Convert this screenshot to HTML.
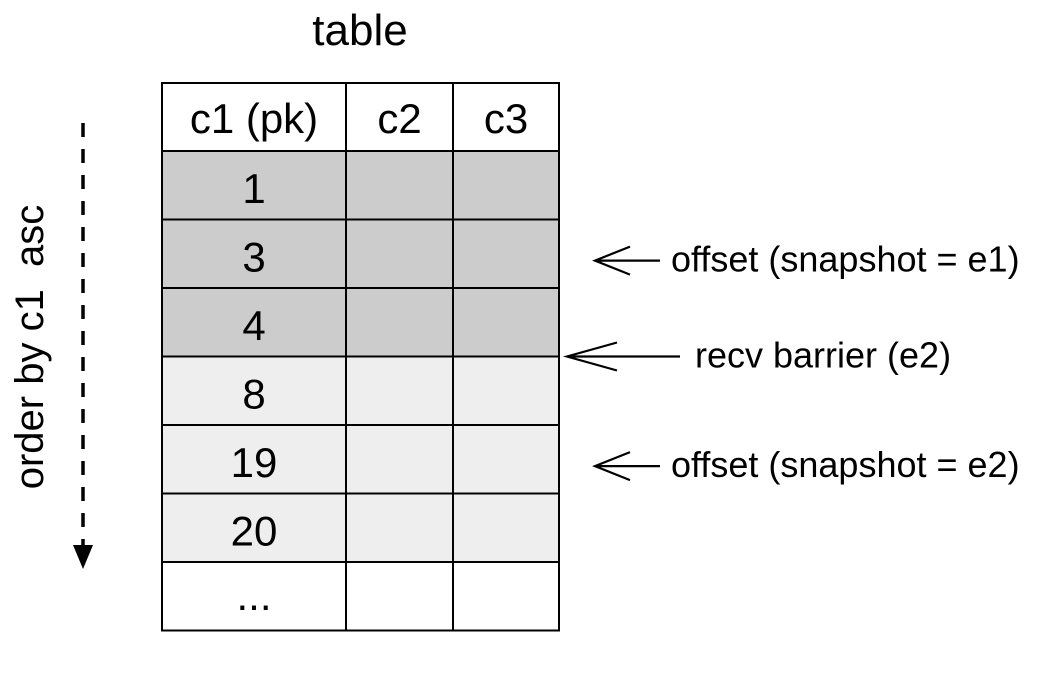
<!DOCTYPE html>
<html><head><meta charset="utf-8"><style>
html,body{margin:0;padding:0;background:#fff;}
svg{display:block;font-family:"Liberation Sans",Arial,sans-serif;}
</style></head><body>
<svg id="d" width="1044" height="678" viewBox="0 0 1044 678">
<text x="360" y="45" font-size="44" text-anchor="middle">table</text>
<g id="tbl"></g>
<g id="ann"></g>
<g>
<line x1="83" y1="123" x2="83" y2="548" stroke="#000" stroke-width="3.5" stroke-dasharray="14,12"/>
<polygon points="73,545 93,545 83,569" fill="#000"/>
<text transform="translate(43,347) rotate(-90)" font-size="40" text-anchor="middle" xml:space="preserve">order by c1  asc</text>
</g>
</svg>
<script>
const headers = ["c1 (pk)", "c2", "c3"];
const rowKeys = ["1", "3", "4", "8", "19", "20", "..."];
const rowFills = ["#cccccc", "#cccccc", "#cccccc", "#eeeeee", "#eeeeee", "#eeeeee", "#ffffff"];
const annLabels = ["offset (snapshot = e1)", "recv barrier (e2)", "offset (snapshot = e2)"];
const annRowPos = [1.6, 3.0, 4.6];
const annType = ["short", "long", "short"];

const NS = "http://www.w3.org/2000/svg";
const colX = [162, 346, 453, 559];
const topY = 83, headBottom = 151, rowH = 68.5;
function rowY(i){ return headBottom + i*rowH; }
function mk(tag, attrs, parent){ const e=document.createElementNS(NS,tag); for(const k in attrs) e.setAttribute(k,attrs[k]); parent.appendChild(e); return e; }
const tbl = document.getElementById('tbl');
const ann = document.getElementById('ann');

const hb = mk('rect',{x:colX[0],y:topY,width:colX[3]-colX[0],height:headBottom-topY,fill:'#fff'},tbl);


headers.forEach((h,j)=>{
  const t = mk('text',{x:(colX[j]+colX[j+1])/2,y:topY+50,'font-size':42,'text-anchor':'middle'},tbl);
  t.textContent = h;
  
  
});
rowKeys.forEach((k,i)=>{
  const y0=rowY(i);
  const r = mk('rect',{x:colX[0],y:y0,width:colX[3]-colX[0],height:rowH,fill:rowFills[i]},tbl);
  
  
  const t = mk('text',{x:(colX[0]+colX[1])/2,y:y0+(k==="..."?48:52),'font-size':42,'text-anchor':'middle'},tbl);
  t.textContent = k;
  
  
});
const bottom = rowY(rowKeys.length);
for(let i=0;i<=rowKeys.length+1;i++){
  const y = i===0?topY:rowY(i-1);
  const l = mk('line',{x1:colX[0]-1,x2:colX[3]+1,y1:y,y2:y,stroke:'#000','stroke-width':2},tbl);
  
  
}
colX.forEach(x=>{
  const l = mk('line',{x1:x,x2:x,y1:topY,y2:bottom,stroke:'#000','stroke-width':2},tbl);
  
  
});
annLabels.forEach((lab,i)=>{
  const y = rowY(annRowPos[i]);
  const long = annType[i]==="long";
  const x1 = long?567:595, x2 = long?680:660, tx = long?695:671;
  const g = mk('g',{},ann);
  
  
  const p = mk('path',{d:`M${x2},${y} L${x1},${y} M${x1+(long?50:35)},${y-14} L${x1},${y} L${x1+(long?50:35)},${y+14}`,fill:'none',stroke:'#000','stroke-width':2.2},g);
  
  
  const t = mk('text',{x:tx,y:y+11,'font-size':36},g);
  t.textContent = lab;
  
  
});
</script>
</body></html>
